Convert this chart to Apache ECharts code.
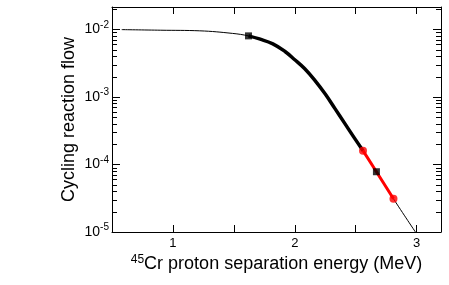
<!DOCTYPE html>
<html>
<head>
<meta charset="utf-8">
<script src="https://cdn.jsdelivr.net/npm/echarts@6/dist/echarts.min.js"></script>
<style>html,body{margin:0;padding:0;background:#fff;}#c{width:449px;height:285px;}</style>
</head>
<body>
<div id="c"></div>
<script>
// Curve (thin line across the whole range)
const curveX = [0.58, 0.90, 1.22, 1.49, 1.62, 1.71, 1.82, 1.92, 2.00, 2.08, 2.16, 2.25, 2.33, 2.41, 2.49, 2.56, 2.67, 2.81, 2.99];
const curveY = [0.0099, 0.0097, 0.0095, 0.0087, 0.0080, 0.0072, 0.0061, 0.0047, 0.00355, 0.00263, 0.0018, 0.0011, 0.00067, 0.000405, 0.000245, 0.00016, 0.000078, 0.000031, 0.00001];
// Thick black segment and thick red segment ranges
const blackRange = [1.62, 2.56];
const redRange = [2.56, 2.81];
// Markers
const squareX = [1.62, 2.67];
const squareY = [0.0080, 0.000078];
const circleX = [2.56, 2.81];
const circleY = [0.00016, 0.000031];
// Axis ticks
const xTickLabels = [1, 2, 3];
const yMajorTicks = [1e-5, 1e-4, 1e-3, 1e-2];
const yMin = 1e-5, yMax = 0.0214;

const yMinorTicks = [];
for (let e = -5; e <= -2; e++) for (let m = 2; m <= 9; m++) {
  const v = m * Math.pow(10, e);
  if (v < yMax) yMinorTicks.push(v);
}

const pts = curveX.map((x, i) => [x, curveY[i]]);
const seg = r => pts.filter(p => p[0] >= r[0] - 1e-9 && p[0] <= r[1] + 1e-9);

function yLabel(v) {
  const e = Math.round(Math.log10(v));
  if (Math.abs(Math.log10(v) - e) > 1e-6 || !yMajorTicks.some(t => Math.abs(Math.log10(t) - e) < 1e-6)) return '';
  return '{b|10}{s|' + e + '}';
}

const chart = echarts.init(document.getElementById('c'), null, {renderer: 'canvas'});
const axisLine = {show: true, lineStyle: {color: '#000', width: 1}};
const fontFam = '"Liberation Sans", Arial, sans-serif';

chart.setOption({
  animation: false,
  backgroundColor: '#fff',
  grid: {left: 112, top: 7, right: 8, bottom: 53, containLabel: false},
  xAxis: [{
    type: 'value', min: 0.5, max: 3.2, interval: 0.5, position: 'bottom',
    axisLine: axisLine, splitLine: {show: false},
    axisTick: {show: true, inside: true, length: 7, lineStyle: {color: '#000'}},
    axisLabel: {
      margin: 5, color: '#000', fontSize: 13, fontFamily: fontFam,
      formatter: v => xTickLabels.some(t => Math.abs(t - v) < 1e-9) ? String(Math.round(v)) : ''
    },
    name: '{s|45}{t|Cr proton separation energy (MeV)}',
    nameLocation: 'middle', nameGap: 22, nameMoveOverlap: false,
    nameTextStyle: {
      color: '#000', fontFamily: fontFam,
      rich: {
        s: {fontSize: 12, fontFamily: fontFam, color: '#000', verticalAlign: 'top', padding: [0, 0, 8, 0]},
        t: {fontSize: 18, fontFamily: fontFam, color: '#000'}
      }
    }
  }, {
    type: 'value', min: 0.5, max: 3.2, interval: 0.5, position: 'top',
    axisLine: axisLine, splitLine: {show: false},
    axisTick: {show: true, inside: true, length: 7, lineStyle: {color: '#000'}},
    axisLabel: {show: false}
  }],
  yAxis: [{
    type: 'log', logBase: 10, min: yMin, max: yMax, interval: 1, position: 'left',
    axisLine: axisLine, splitLine: {show: false},
    axisTick: {show: true, inside: true, length: 8, lineStyle: {color: '#000'}},
    axisLabel: {
      margin: 3, color: '#000', fontFamily: fontFam, formatter: yLabel,
      rich: {
        b: {fontSize: 14, fontFamily: fontFam, color: '#000'},
        s: {fontSize: 10, fontFamily: fontFam, color: '#000', verticalAlign: 'top', padding: [0, 0, 9, 0]}
      }
    },
    name: 'Cycling reaction flow', nameLocation: 'middle', nameGap: 34, nameRotate: 90, nameMoveOverlap: false,
    nameTextStyle: {color: '#000', fontSize: 18, fontFamily: fontFam}
  }, {
    type: 'log', logBase: 10, min: yMin, max: yMax, interval: 1, position: 'right',
    axisLine: axisLine, splitLine: {show: false},
    axisTick: {show: true, inside: true, length: 8, lineStyle: {color: '#000'}},
    axisLabel: {show: false}
  }],
  series: [
    {
      type: 'custom', xAxisIndex: 0, yAxisIndex: 0, silent: true, z: 1,
      data: yMinorTicks.map(v => [0.5, v]),
      renderItem: function (params, api) {
        const p = api.coord([api.value(0), api.value(1)]);
        const cs = params.coordSys;
        const y = Math.round(p[1]) + 0.5;
        const style = {stroke: '#000', lineWidth: 1};
        return {type: 'group', children: [
          {type: 'line', shape: {x1: cs.x, y1: y, x2: cs.x + 5, y2: y}, style: style},
          {type: 'line', shape: {x1: cs.x + cs.width - 5, y1: y, x2: cs.x + cs.width, y2: y}, style: style}
        ]};
      }
    },
    {
      type: 'line', data: pts, smooth: 0.4, showSymbol: false, z: 2,
      lineStyle: {color: '#000', width: 1}
    },
    {
      type: 'line', data: seg(blackRange), smooth: 0.4, showSymbol: false, z: 3,
      lineStyle: {color: '#000', width: 3.5}
    },
    {
      type: 'line', data: seg(redRange), smooth: 0, showSymbol: false, z: 4,
      lineStyle: {color: '#ff0000', width: 3}
    },
    {
      type: 'scatter', data: circleX.map((x, i) => [x, circleY[i]]), symbol: 'circle', symbolSize: 8, z: 5,
      itemStyle: {color: '#ff0000'}
    },
    {
      type: 'scatter', data: squareX.map((x, i) => [x, squareY[i]]), symbol: 'rect', symbolSize: 7, z: 6,
      itemStyle: {color: '#000'}
    }
  ]
});
</script>
</body>
</html>
